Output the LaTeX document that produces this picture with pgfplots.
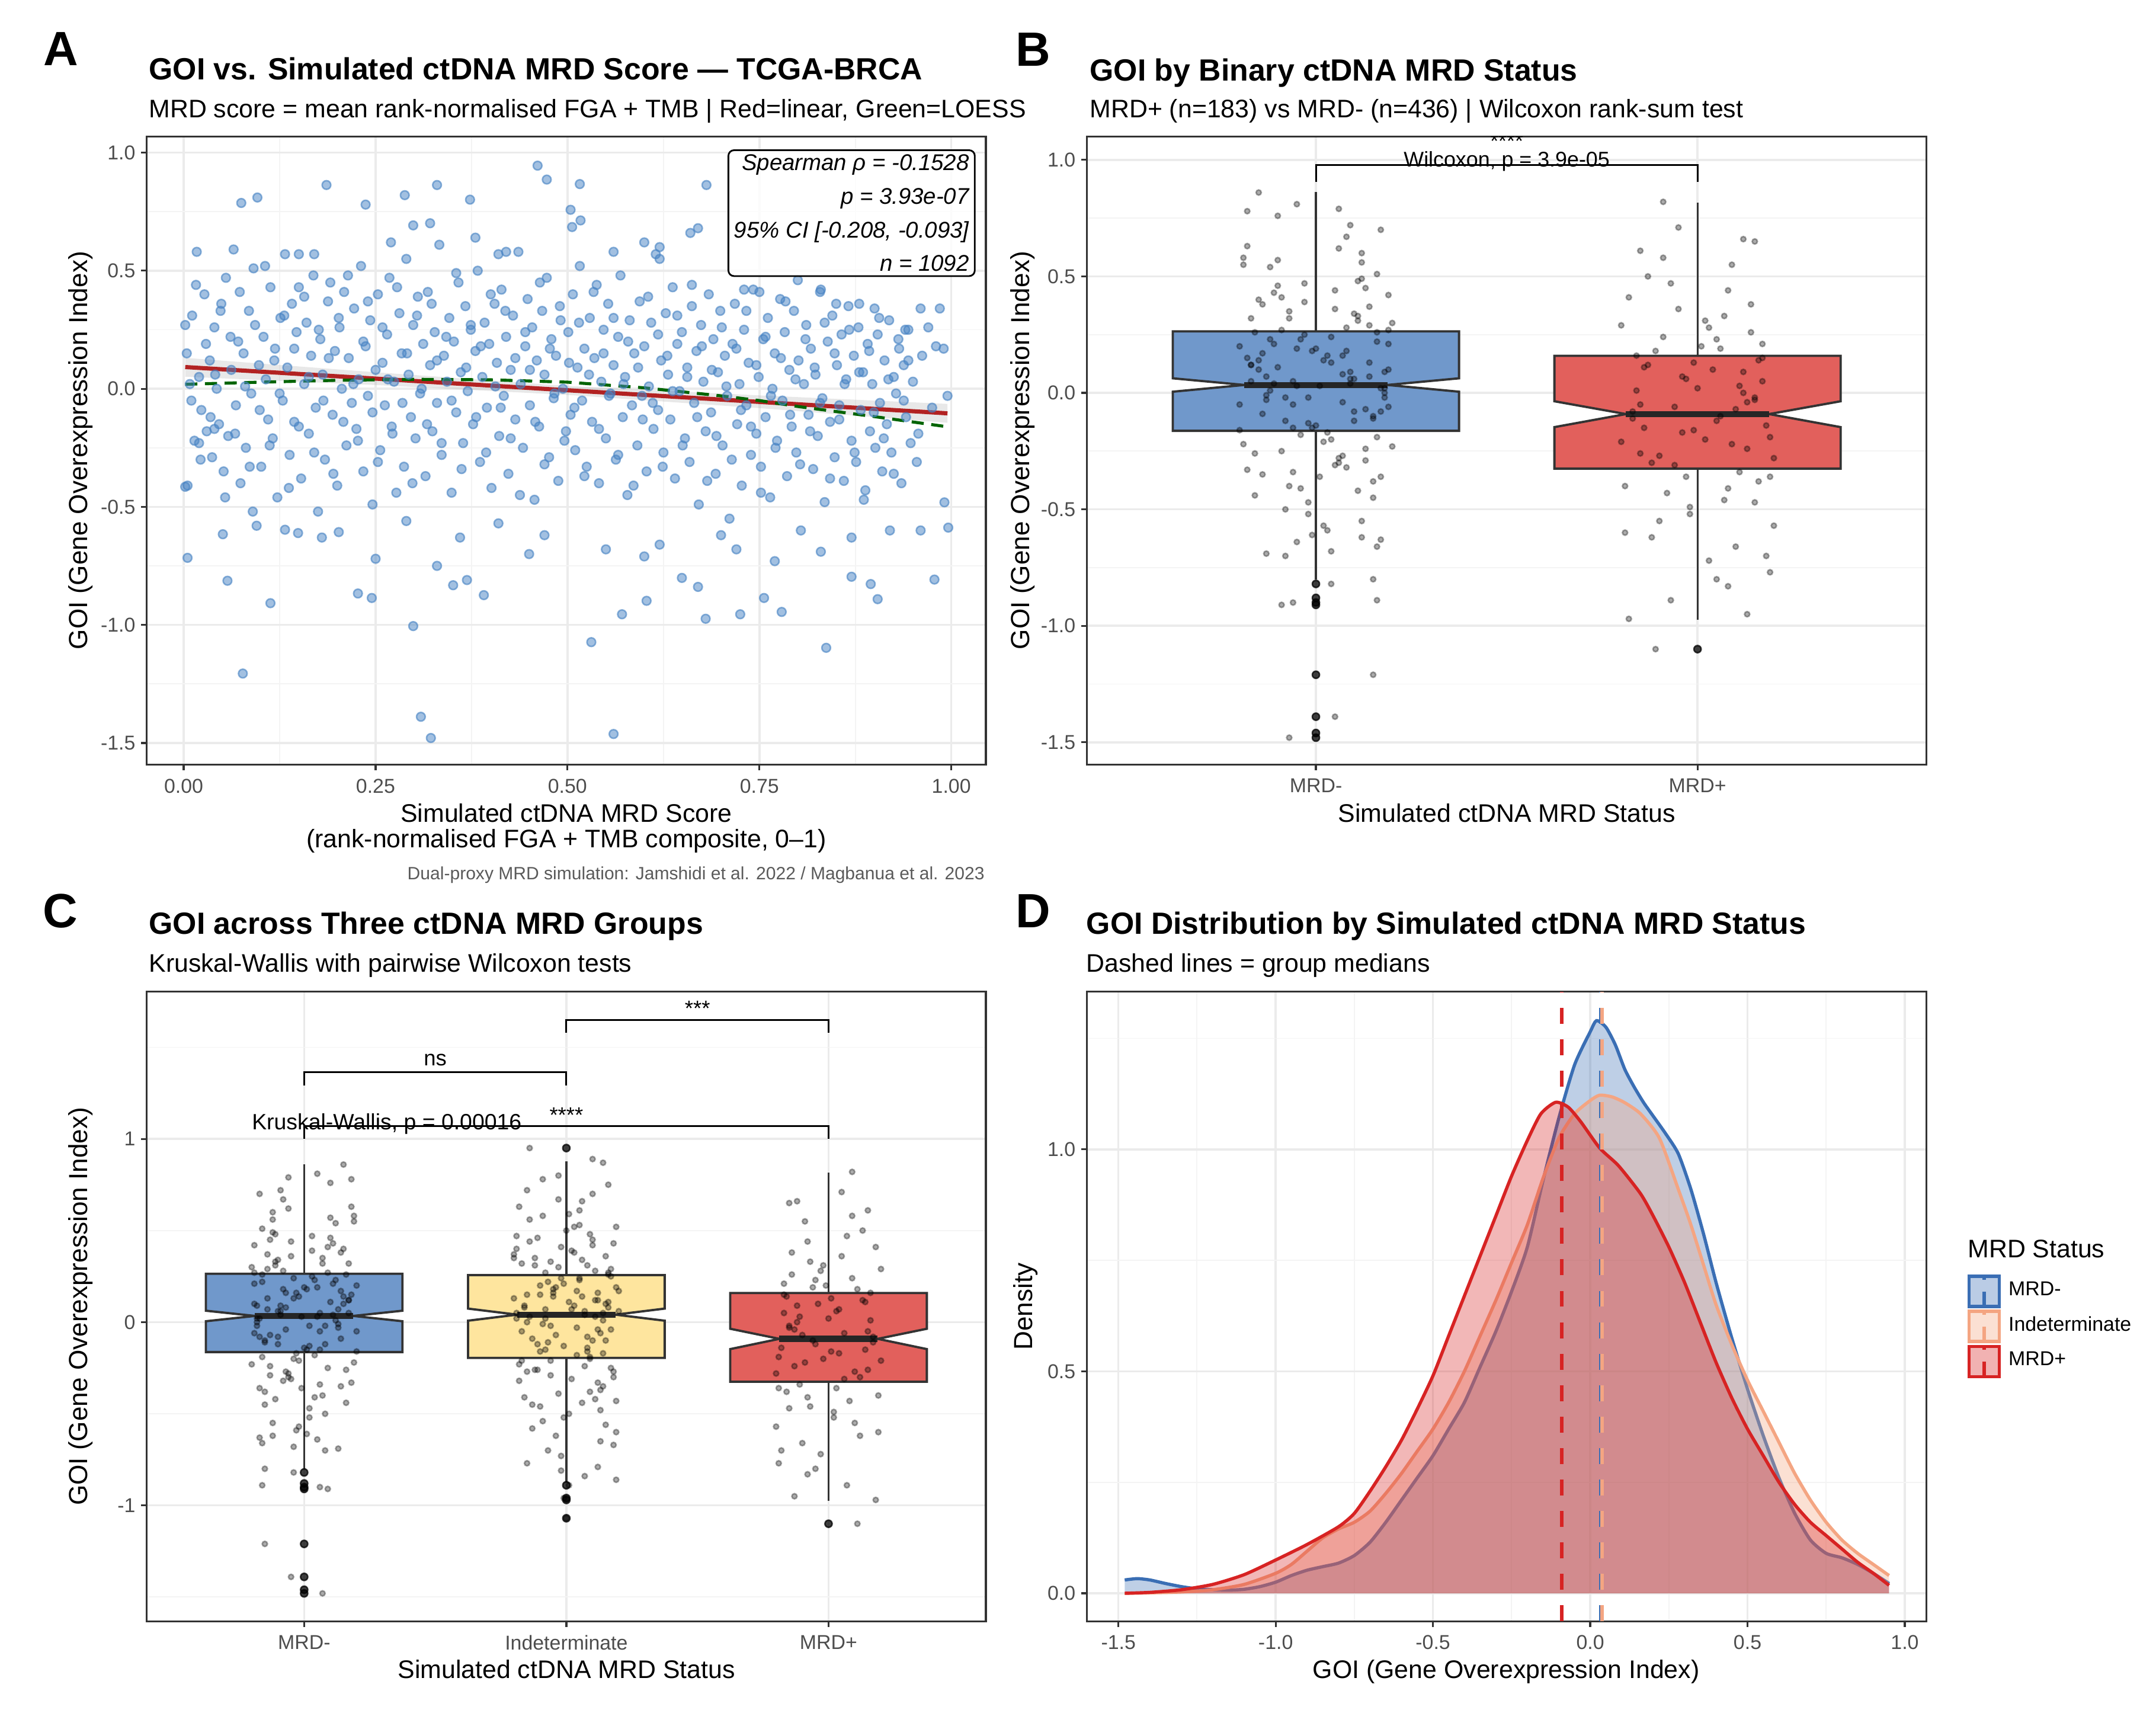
\documentclass[border=0pt]{standalone}
\usepackage{fontspec}
\setmainfont{Liberation Sans}
\usepackage{pgfplots}
\pgfplotsset{compat=1.18}
\usepackage{pgfplotstable}

\definecolor{ptblue}{RGB}{70,130,195}
\definecolor{regred}{RGB}{178,34,34}
\definecolor{loessgreen}{RGB}{0,100,0}
\definecolor{boxblue}{RGB}{112,152,203}
\definecolor{boxred}{RGB}{226,96,92}
\definecolor{boxyel}{RGB}{254,229,158}
\definecolor{dblue}{RGB}{58,110,180}
\definecolor{dorange}{RGB}{244,165,130}
\definecolor{dred}{RGB}{215,35,35}
\definecolor{gridc}{RGB}{235,235,235}
\definecolor{gridm}{RGB}{244,244,244}
\definecolor{framec}{RGB}{51,51,51}
\definecolor{ticklab}{RGB}{77,77,77}
\definecolor{capgray}{RGB}{90,90,90}

\pgfplotsset{ggbw/.style={scale only axis, anchor=south west,
  axis line style={framec, line width=0.5pt},
  grid=both, major grid style={gridc, line width=0.55pt}, minor grid style={gridm, line width=0.3pt},
  tick align=outside, major tick length=1.5pt, minor tick length=0pt, tick pos=left,
  tick style={framec, line width=0.5pt},
  tick label style={font=\fontsize{5.3}{6}\selectfont, text=ticklab},
  xticklabel style={yshift=1.3pt}, yticklabel style={xshift=2pt},
  clip=true}}

\pgfplotstableread[row sep=\\]{
j y \\
-0.17 0.12 \\ 0.05 -0.31 \\ 0.13 0.45 \\ -0.08 -0.02 \\ 0.19 0.27 \\ -0.02 -0.52 \\ 0.09 0.06 \\ -0.14 0.38 \\ 0.16 -0.19 \\ -0.11 0.21 \\
0.01 -0.36 \\ 0.18 0.09 \\ -0.19 0.55 \\ 0.07 -0.27 \\ -0.05 0.03 \\ 0.11 0.33 \\ -0.16 -0.44 \\ 0.03 0.16 \\ 0.15 -0.11 \\ -0.09 0.41 \\
0.17 -0.63 \\ -0.13 0.07 \\ 0.04 0.24 \\ -0.01 -0.15 \\ 0.12 0.49 \\ -0.18 -0.33 \\ 0.08 0.18 \\ -0.06 -0.05 \\ 0.14 0.29 \\ -0.04 -0.41 \\
-0.12 0.01 \\ 0.06 0.62 \\ 0.20 -0.23 \\ -0.15 0.14 \\ 0.10 -0.08 \\ -0.07 0.35 \\ 0.02 -0.57 \\ 0.16 0.22 \\ -0.20 -0.16 \\ 0.09 0.04 \\
-0.03 0.47 \\ 0.13 -0.29 \\ -0.10 0.11 \\ 0.18 -0.02 \\ -0.16 0.26 \\ 0.04 -0.68 \\ 0.11 0.31 \\ -0.08 -0.12 \\ 0.07 0.08 \\ -0.19 0.58 \\
0.15 -0.38 \\ -0.05 0.19 \\ 0.19 -0.06 \\ -0.11 0.43 \\ 0.02 -0.21 \\ -0.17 0.05 \\ 0.09 0.72 \\ -0.02 -0.47 \\ 0.14 0.13 \\ -0.14 -0.09 \\
0.05 0.36 \\ -0.09 -0.25 \\ 0.17 0.02 \\ -0.04 0.23 \\ 0.12 -0.55 \\ -0.18 0.15 \\ 0.00 -0.14 \\ 0.16 0.51 \\ -0.13 -0.03 \\ 0.08 0.28 \\
-0.06 -0.34 \\ 0.19 0.10 \\ -0.15 0.40 \\ 0.03 -0.17 \\ 0.10 0.06 \\ -0.01 -0.61 \\ -0.20 0.20 \\ 0.13 -0.07 \\ -0.07 0.32 \\ 0.06 -0.28 \\
0.18 0.00 \\ -0.12 0.54 \\ 0.04 -0.20 \\ -0.17 0.12 \\ 0.11 -0.42 \\ -0.03 0.25 \\ 0.15 -0.10 \\ -0.10 0.46 \\ 0.01 0.03 \\ 0.17 -0.36 \\
-0.14 0.17 \\ 0.07 -0.04 \\ -0.05 0.81 \\ 0.20 0.30 \\ -0.19 -0.22 \\ 0.09 0.09 \\ -0.08 -0.50 \\ 0.14 0.37 \\ -0.02 -0.13 \\ 0.12 0.56 \\
-0.16 -0.26 \\ 0.02 0.14 \\ 0.16 -0.66 \\ -0.11 0.04 \\ 0.05 0.44 \\ -0.04 -0.18 \\ 0.19 0.21 \\ -0.13 -0.01 \\ 0.10 0.34 \\ -0.07 -0.40 \\
0.14 0.07 \\ -0.18 0.63 \\ 0.06 -0.30 \\ -0.01 0.18 \\ 0.17 -0.08 \\ -0.09 0.27 \\ 0.03 -0.59 \\ -0.15 0.10 \\ 0.11 0.48 \\ -0.06 -0.15 \\
0.08 -0.32 \\ -0.12 0.23 \\ 0.18 0.02 \\ -0.03 0.39 \\ 0.13 -0.24 \\ -0.20 -0.05 \\ 0.04 0.13 \\ -0.10 0.57 \\ 0.15 -0.45 \\ 0.00 0.19 \\
-0.17 0.32 \\ 0.10 -0.12 \\ -0.06 0.05 \\ 0.19 0.42 \\ -0.14 -0.35 \\ 0.07 0.16 \\ -0.02 -0.02 \\ 0.12 0.60 \\ -0.08 -0.70 \\ 0.16 0.26 \\
-0.15 0.86 \\ 0.06 0.79 \\ -0.10 0.76 \\ 0.17 0.70 \\ -0.18 0.78 \\ 0.12 -0.62 \\ -0.13 -0.69 \\ 0.15 -0.80 \\ -0.05 -0.64 \\ 0.08 0.67 \\
-0.07 -1.48 \\ 0.15 -1.21 \\ 0.05 -1.39 \\ 0.16 -0.89 \\ -0.06 -0.90 \\ 0.04 -0.82 \\ -0.09 -0.91 \\
}\mrdneg

\pgfplotstableread[row sep=\\]{
j y \\
0.12 -0.04 \\ -0.06 0.33 \\ 0.18 -0.27 \\ -0.15 0.15 \\ 0.03 0.52 \\ -0.10 -0.46 \\ 0.16 0.08 \\ -0.02 0.24 \\ 0.08 -0.14 \\ -0.19 0.40 \\
0.14 -0.35 \\ -0.08 0.02 \\ 0.05 0.61 \\ -0.17 -0.21 \\ 0.19 0.19 \\ -0.04 -0.07 \\ 0.10 0.45 \\ -0.13 -0.58 \\ 0.01 0.11 \\ 0.17 0.29 \\
-0.11 -0.26 \\ 0.07 0.06 \\ -0.20 0.37 \\ 0.13 -0.48 \\ -0.05 0.14 \\ 0.15 -0.10 \\ -0.14 0.56 \\ 0.02 -0.31 \\ 0.11 0.03 \\ -0.07 0.22 \\
0.18 -0.67 \\ -0.12 0.31 \\ 0.04 -0.18 \\ -0.16 0.09 \\ 0.09 0.48 \\ -0.03 -0.39 \\ 0.20 0.17 \\ -0.09 -0.01 \\ 0.06 0.66 \\ -0.18 -0.23 \\
0.11 0.12 \\ -0.01 -0.52 \\ 0.16 0.26 \\ -0.13 -0.09 \\ 0.03 0.38 \\ -0.06 -0.29 \\ 0.14 0.05 \\ -0.19 0.47 \\ 0.08 -0.16 \\ -0.10 0.20 \\
0.19 -0.43 \\ -0.15 0.00 \\ 0.06 0.34 \\ -0.04 -0.62 \\ 0.12 0.16 \\ -0.11 -0.12 \\ 0.01 0.59 \\ 0.17 -0.25 \\ -0.08 0.07 \\ 0.10 0.42 \\
-0.17 -0.05 \\ 0.05 0.23 \\ -0.02 -0.73 \\ 0.15 0.10 \\ -0.12 0.35 \\ 0.09 -0.20 \\ -0.20 0.13 \\ 0.13 -0.37 \\ 0.00 0.50 \\ -0.07 -0.11 \\
0.16 0.27 \\ -0.09 -0.54 \\ 0.07 0.04 \\ -0.14 0.44 \\ 0.18 -0.30 \\ -0.05 0.18 \\ 0.04 -0.03 \\ -0.18 0.63 \\ 0.11 -0.42 \\ -0.01 0.21 \\
0.14 -0.17 \\ -0.16 0.08 \\ 0.02 0.39 \\ 0.19 -0.60 \\ -0.10 0.15 \\ 0.08 -0.08 \\ -0.03 0.30 \\ 0.12 -0.33 \\ -0.19 0.02 \\ 0.05 0.53 \\
-0.06 -0.21 \\ 0.17 0.25 \\ -0.13 -0.45 \\ 0.03 0.09 \\ 0.10 0.70 \\ -0.08 -0.15 \\ 0.15 0.36 \\ -0.15 -0.27 \\ 0.06 0.14 \\ -0.02 -0.81 \\
0.20 0.06 \\ -0.11 0.46 \\ 0.09 -0.38 \\ -0.04 0.19 \\ 0.13 -0.06 \\ -0.17 0.32 \\ 0.01 -0.50 \\ 0.16 0.11 \\ -0.09 0.58 \\ 0.07 -0.24 \\
-0.14 0.03 \\ 0.11 0.28 \\ -0.01 -0.13 \\ 0.18 0.43 \\ -0.07 -0.70 \\ 0.04 0.17 \\ -0.18 -0.32 \\ 0.14 0.01 \\ -0.03 0.67 \\ 0.09 -0.19 \\
0.05 0.24 \\ -0.16 -0.41 \\ 0.12 0.12 \\ -0.06 -0.02 \\ 0.19 0.52 \\ -0.12 -0.26 \\ 0.02 0.07 \\ -0.20 0.35 \\ 0.15 -0.56 \\ -0.05 0.16 \\
0.10 -0.10 \\ -0.15 0.72 \\ 0.06 -0.44 \\ -0.08 0.27 \\ 0.17 -0.04 \\ -0.02 0.41 \\ 0.13 -0.65 \\ -0.19 0.05 \\ 0.08 0.31 \\ -0.10 -0.16 \\
-0.14 0.95 \\ 0.10 0.89 \\ 0.14 0.87 \\ -0.03 0.80 \\ 0.16 0.75 \\ -0.09 0.78 \\ 0.19 -0.86 \\ 0.12 -0.79 \\ -0.15 -0.77 \\ 0.07 -0.84 \\
0.00 -1.07 \\ -0.01 -0.96 \\ 0.01 -0.89 \\
}\indet

\pgfplotstableread[row sep=\\]{
j y \\
-0.15 -0.05 \\ 0.08 -0.41 \\ 0.17 0.21 \\ -0.04 -0.17 \\ 0.12 0.09 \\ -0.19 -0.60 \\ 0.02 0.31 \\ -0.10 -0.27 \\ 0.15 -0.02 \\ -0.07 0.47 \\
0.19 -0.36 \\ -0.13 0.12 \\ 0.05 -0.12 \\ -0.02 -0.52 \\ 0.14 0.26 \\ -0.17 -0.08 \\ 0.09 0.55 \\ -0.06 -0.31 \\ 0.11 0.03 \\ -0.20 -0.21 \\
0.03 -0.72 \\ -0.11 0.18 \\ 0.18 -0.14 \\ -0.05 0.36 \\ 0.07 -0.46 \\ -0.16 0.01 \\ 0.13 -0.24 \\ -0.01 0.13 \\ 0.20 -0.57 \\ -0.09 0.24 \\
0.06 -0.10 \\ -0.18 0.41 \\ 0.16 -0.38 \\ -0.03 0.06 \\ 0.10 -0.66 \\ -0.14 -0.15 \\ 0.01 0.20 \\ 0.15 -0.03 \\ -0.08 -0.43 \\ 0.12 0.66 \\
-0.12 -0.30 \\ 0.04 0.10 \\ 0.19 -0.19 \\ -0.20 0.29 \\ 0.08 -0.83 \\ -0.06 -0.06 \\ 0.14 0.38 \\ -0.02 -0.49 \\ 0.17 0.15 \\ -0.15 -0.26 \\
0.00 0.02 \\ -0.09 0.58 \\ 0.11 -0.34 \\ -0.17 -0.11 \\ 0.05 0.23 \\ 0.18 -0.70 \\ -0.04 0.07 \\ 0.09 -0.22 \\ -0.13 0.50 \\ 0.13 -0.04 \\
-0.10 -0.55 \\ 0.16 0.14 \\ -0.01 -0.16 \\ 0.07 0.33 \\ -0.19 -0.40 \\ 0.12 0.00 \\ -0.07 -0.89 \\ 0.03 0.28 \\ 0.20 -0.28 \\ -0.14 0.11 \\
0.10 -0.07 \\ -0.05 0.71 \\ 0.15 -0.47 \\ -0.16 0.16 \\ 0.02 -0.20 \\ 0.08 0.44 \\ -0.12 -0.62 \\ 0.17 0.05 \\ -0.03 -0.36 \\ 0.06 0.19 \\
-0.09 0.82 \\ 0.15 0.65 \\ -0.18 -0.97 \\ -0.11 -1.10 \\ 0.13 -0.95 \\ 0.05 -0.80 \\ -0.15 0.61 \\ 0.19 -0.77 \\
}\mrdpos

\begin{document}
\begin{tikzpicture}
\useasboundingbox (0,0) rectangle (20cm,16.0075cm);

% ---------------- Panel A ----------------
\begin{axis}[ggbw, at={(1.3622cm,8.9145cm)}, width=7.783cm, height=5.828cm,
  xmin=-0.048, xmax=1.045, ymin=-1.592, ymax=1.069,
  xtick={0,0.25,0.5,0.75,1}, xticklabels={0.00,0.25,0.50,0.75,1.00},
  ytick={-1.5,-1,-0.5,0,0.5,1}, yticklabels={-1.5,-1.0,-0.5,0.0,0.5,1.0},
  minor tick num=1]
\addplot[only marks, mark=*, mark size=1.15pt, mark options={fill=ptblue, draw=ptblue, fill opacity=0.5, draw opacity=0.62}] coordinates {
(0.002,0.27)(0.005,-0.41)(0.008,0.02)(0.011,0.31)(0.014,-0.22)(0.017,0.58)(0.020,0.05)(0.023,-0.09)(0.027,0.40)(0.030,-0.18)
(0.034,0.12)(0.037,-0.29)(0.040,0.26)(0.043,0.00)(0.046,-0.15)(0.049,0.36)(0.052,-0.35)(0.055,0.47)(0.058,-0.20)(0.062,0.08)
(0.065,0.59)(0.068,-0.07)(0.071,0.20)(0.074,-0.40)(0.078,0.15)(0.081,-0.25)(0.085,0.33)(0.088,-0.02)(0.091,0.51)(0.095,-0.58)
(0.098,0.10)(0.101,-0.33)(0.104,0.22)(0.107,0.04)(0.110,-0.13)(0.113,0.43)(0.116,-0.21)(0.119,0.17)(0.122,-0.46)(0.126,0.30)
(0.129,-0.05)(0.132,0.57)(0.135,0.09)(0.138,-0.28)(0.141,0.36)(0.144,-0.14)(0.147,0.24)(0.150,0.43)(0.153,-0.38)(0.157,0.02)
(0.160,0.28)(0.163,-0.19)(0.166,0.14)(0.169,0.48)(0.172,-0.08)(0.175,-0.52)(0.178,0.21)(0.181,0.06)(0.184,-0.30)(0.188,0.37)
(0.191,0.45)(0.194,-0.11)(0.197,0.16)(0.200,-0.41)(0.203,0.26)(0.206,0.00)(0.209,0.41)(0.212,-0.24)(0.215,0.13)(0.219,-0.06)
(0.222,0.34)(0.225,-0.17)(0.228,0.04)(0.231,0.52)(0.234,-0.35)(0.237,0.18)(0.240,-0.03)(0.243,0.29)(0.246,-0.49)(0.250,0.08)
(0.253,0.40)(0.256,-0.26)(0.259,0.11)(0.262,-0.07)(0.265,0.23)(0.268,0.47)(0.271,-0.16)(0.274,0.03)(0.277,-0.44)(0.281,0.32)
(0.284,0.15)(0.287,-0.33)(0.290,0.55)(0.293,0.06)(0.296,-0.12)(0.299,0.27)(0.302,-0.21)(0.305,0.39)(0.308,-0.02)(0.312,0.19)
(0.315,-0.37)(0.318,0.41)(0.321,0.10)(0.324,-0.18)(0.327,0.24)(0.330,-0.06)(0.333,0.61)(0.336,-0.28)(0.339,0.14)(0.343,0.03)
(0.346,0.30)(0.349,-0.44)(0.352,0.20)(0.355,-0.10)(0.358,0.45)(0.361,0.07)(0.364,-0.23)(0.367,0.35)(0.370,-0.01)(0.374,0.25)
(0.377,-0.15)(0.380,0.16)(0.383,0.50)(0.386,-0.31)(0.389,0.05)(0.392,0.28)(0.395,-0.08)(0.398,0.19)(0.401,-0.42)(0.405,0.36)
(0.408,0.11)(0.411,-0.20)(0.414,0.42)(0.417,-0.03)(0.420,0.22)(0.423,-0.36)(0.426,0.08)(0.429,0.31)(0.432,-0.13)(0.436,0.58)
(0.439,0.02)(0.442,-0.25)(0.445,0.18)(0.448,0.38)(0.451,-0.07)(0.454,0.26)(0.457,-0.47)(0.460,0.12)(0.463,-0.16)(0.467,0.33)
(0.470,0.06)(0.473,0.47)(0.476,-0.29)(0.479,0.21)(0.482,-0.04)(0.485,0.14)(0.488,-0.39)(0.491,0.29)(0.494,0.00)(0.498,-0.18)
(0.501,0.24)(0.504,-0.11)(0.507,0.40)(0.510,-0.26)(0.513,0.09)(0.516,0.52)(0.519,-0.05)(0.522,0.17)(0.525,-0.33)(0.529,0.30)
(0.532,-0.14)(0.535,0.13)(0.538,0.44)(0.541,-0.40)(0.544,0.03)(0.547,0.25)(0.550,-0.21)(0.553,0.36)(0.556,-0.02)(0.560,0.10)
(0.563,-0.30)(0.566,0.22)(0.569,0.48)(0.572,-0.12)(0.575,0.05)(0.578,-0.45)(0.581,0.29)(0.584,-0.07)(0.587,0.15)(0.591,-0.24)
(0.594,0.37)(0.597,-0.03)(0.600,0.18)(0.603,-0.35)(0.606,0.01)(0.609,0.28)(0.612,-0.17)(0.615,0.57)(0.618,-0.09)(0.622,0.12)
(0.625,-0.27)(0.628,0.32)(0.631,0.06)(0.634,-0.13)(0.637,0.43)(0.640,-0.38)(0.643,0.19)(0.646,-0.01)(0.649,0.24)(0.653,-0.21)
(0.656,0.09)(0.659,-0.31)(0.662,0.35)(0.665,-0.06)(0.668,0.16)(0.671,-0.49)(0.674,0.27)(0.677,0.03)(0.680,-0.18)(0.684,0.40)
(0.687,-0.10)(0.690,0.21)(0.693,-0.36)(0.696,0.07)(0.699,0.33)(0.702,-0.24)(0.705,0.14)(0.708,-0.03)(0.711,-0.55)(0.715,0.19)
(0.718,0.36)(0.721,-0.15)(0.724,0.02)(0.727,-0.41)(0.730,0.25)(0.733,-0.07)(0.736,0.11)(0.739,-0.28)(0.742,0.42)(0.746,-0.19)
(0.749,0.05)(0.752,-0.33)(0.755,0.21)(0.758,-0.12)(0.761,0.30)(0.764,-0.46)(0.767,0.00)(0.770,0.15)(0.773,-0.22)(0.777,0.38)
(0.780,-0.05)(0.783,0.24)(0.786,-0.37)(0.789,0.08)(0.792,-0.16)(0.795,0.33)(0.798,-0.27)(0.801,0.12)(0.804,-0.60)(0.808,0.02)
(0.811,0.27)(0.814,-0.11)(0.817,0.17)(0.820,-0.34)(0.823,0.06)(0.826,-0.20)(0.829,0.41)(0.832,-0.04)(0.835,-0.48)(0.839,0.20)
(0.842,-0.14)(0.845,0.31)(0.848,-0.29)(0.851,0.10)(0.854,-0.07)(0.857,0.23)(0.860,-0.39)(0.863,0.04)(0.866,0.35)(0.870,-0.22)
(0.873,0.14)(0.876,-0.31)(0.879,0.26)(0.882,-0.09)(0.885,0.07)(0.888,-0.43)(0.891,0.19)(0.894,-0.18)(0.897,0.02)(0.901,-0.25)
(0.904,0.23)(0.907,-0.06)(0.910,-0.35)(0.913,0.12)(0.916,-0.15)(0.919,0.29)(0.922,-0.27)(0.925,0.05)(0.928,-0.02)(0.932,0.17)
(0.935,-0.40)(0.938,0.10)(0.941,-0.12)(0.944,0.25)(0.947,-0.23)(0.950,0.03)(0.955,-0.31)(0.962,0.14)(0.975,-0.08)(0.985,0.34)(0.990,0.17)(0.995,-0.03)
(0.461,0.945)(0.473,0.886)(0.516,0.867)(0.186,0.863)(0.330,0.863)(0.681,0.863)(0.075,0.787)(0.096,0.810)(0.237,0.780)(0.288,0.820)
(0.373,0.801)(0.504,0.758)(0.506,0.685)(0.517,0.713)(0.299,0.692)(0.321,0.701)(0.077,-1.206)(0.309,-1.389)(0.322,-1.479)(0.560,-1.462)
(0.299,-1.005)(0.531,-1.073)(0.837,-1.097)(0.113,-0.908)(0.227,-0.867)(0.245,-0.886)(0.391,-0.874)(0.351,-0.832)(0.369,-0.810)(0.571,-0.955)
(0.603,-0.898)(0.680,-0.974)(0.725,-0.955)(0.779,-0.945)(0.756,-0.886)(0.649,-0.801)(0.670,-0.839)(0.904,-0.891)(0.895,-0.827)(0.978,-0.808)
(0.870,-0.796)(0.005,-0.716)(0.057,-0.813)(0.051,-0.616)(0.132,-0.597)(0.149,-0.611)(0.202,-0.607)(0.002,-0.415)(0.996,-0.588)(0.991,-0.481)
(0.27,0.62)(0.38,0.64)(0.60,0.62)(0.62,0.60)(0.66,0.66)(0.67,0.68)(0.56,0.58)(0.42,0.58)(0.41,0.57)(0.15,0.57)(0.17,0.57)(0.62,0.55)
(0.90,0.34)(0.96,0.34)(0.98,0.18)(0.94,0.25)(0.85,0.36)(0.88,0.36)(0.83,0.42)(0.80,0.46)(0.73,0.42)(0.75,0.41)
(0.25,-0.72)(0.33,-0.75)(0.45,-0.70)(0.55,-0.68)(0.60,-0.71)(0.70,-0.62)(0.83,-0.69)(0.87,-0.63)(0.92,-0.60)(0.96,-0.60)(0.72,-0.68)
(0.77,-0.73)(0.62,-0.66)(0.47,-0.62)(0.36,-0.63)(0.41,-0.57)(0.29,-0.56)(0.18,-0.63)(0.09,-0.52)(0.02,-0.23)(0.04,-0.17)
(0.004,0.15)(0.010,-0.05)(0.016,0.44)(0.022,-0.30)(0.029,0.19)(0.035,-0.12)(0.041,0.06)(0.048,0.33)(0.054,-0.46)(0.061,0.22)
(0.067,-0.19)(0.073,0.41)(0.080,0.01)(0.086,-0.33)(0.093,0.27)(0.099,-0.09)(0.106,0.52)(0.112,-0.24)(0.118,0.12)(0.125,-0.02)
(0.131,0.31)(0.137,-0.42)(0.144,0.17)(0.150,-0.16)(0.157,0.39)(0.163,0.05)(0.170,-0.27)(0.176,0.25)(0.182,-0.05)(0.189,0.13)
(0.195,-0.36)(0.202,0.30)(0.208,-0.14)(0.214,0.48)(0.221,0.02)(0.227,-0.22)(0.234,0.20)(0.240,0.37)(0.246,-0.10)(0.253,-0.31)
(0.259,0.26)(0.266,0.04)(0.272,-0.19)(0.278,0.43)(0.285,-0.06)(0.291,0.15)(0.298,-0.40)(0.304,0.31)(0.310,0.00)(0.317,-0.15)
(0.323,0.36)(0.330,0.12)(0.336,-0.23)(0.342,0.22)(0.349,-0.05)(0.355,0.49)(0.362,-0.34)(0.368,0.09)(0.374,0.27)(0.381,-0.12)
(0.387,0.18)(0.394,-0.27)(0.400,0.40)(0.406,0.01)(0.413,-0.08)(0.419,0.33)(0.426,-0.21)(0.432,0.13)(0.438,-0.45)(0.445,0.24)
(0.451,0.08)(0.458,-0.14)(0.464,0.45)(0.470,-0.32)(0.477,0.17)(0.483,-0.02)(0.490,0.35)(0.496,-0.22)(0.502,0.11)(0.509,-0.08)
(0.515,0.28)(0.522,-0.37)(0.528,0.06)(0.534,0.41)(0.541,-0.17)(0.547,0.15)(0.554,-0.03)(0.560,0.30)(0.566,-0.28)(0.573,0.02)
(0.579,0.20)(0.586,-0.41)(0.592,0.09)(0.598,-0.13)(0.605,0.39)(0.611,-0.06)(0.618,0.23)(0.624,-0.33)(0.630,0.14)(0.637,-0.01)
(0.643,0.31)(0.650,-0.24)(0.656,0.05)(0.662,0.44)(0.669,-0.12)(0.675,0.18)(0.682,-0.39)(0.688,0.08)(0.694,-0.20)(0.701,0.26)
(0.707,0.01)(0.714,-0.30)(0.720,0.17)(0.726,-0.09)(0.733,0.33)(0.739,-0.16)(0.746,0.10)(0.752,-0.44)(0.758,0.22)(0.765,-0.03)
(0.771,-0.25)(0.778,0.13)(0.784,0.37)(0.790,-0.11)(0.797,0.04)(0.803,-0.32)(0.810,0.21)(0.816,-0.18)(0.822,0.09)(0.829,-0.06)
(0.835,0.28)(0.842,-0.38)(0.848,0.15)(0.854,-0.13)(0.861,0.02)(0.867,0.25)(0.874,-0.27)(0.880,0.07)(0.886,-0.47)(0.893,0.16)
(0.899,-0.10)(0.906,0.30)(0.912,-0.21)(0.918,0.04)(0.925,-0.36)(0.931,0.21)(0.938,-0.05)(0.944,0.12)(0.957,-0.19)(0.970,0.26)
};
\addplot[draw=none, fill=gray!60, fill opacity=0.3] coordinates {
(0.002,0.131)(0.25,0.070)(0.5,0.012)(0.75,-0.028)(0.995,-0.064)(0.995,-0.144)(0.75,-0.082)(0.5,-0.026)(0.25,0.016)(0.002,0.051)} --cycle;
\addplot[regred, line width=1.1pt] coordinates {(0.002,0.092)(0.995,-0.104)};
\addplot[loessgreen, line width=0.8pt, dash pattern=on 3.2pt off 2pt] coordinates {
(0.002,0.019)(0.1,0.028)(0.2,0.036)(0.25,0.038)(0.3,0.040)(0.4,0.038)(0.5,0.028)(0.6,0.004)(0.7,-0.030)(0.75,-0.050)(0.8,-0.075)(0.9,-0.118)(0.995,-0.161)};
\end{axis}

% ---------------- Panel B ----------------
\begin{axis}[ggbw, at={(10.083cm,8.9145cm)}, width=7.788cm, height=5.828cm,
  xmin=0.4, xmax=2.6, ymin=-1.596, ymax=1.101,
  xtick={1,2}, xticklabels={MRD-,MRD+}, minor x tick num=0,
  ytick={-1.5,-1,-0.5,0,0.5,1}, yticklabels={-1.5,-1.0,-0.5,0.0,0.5,1.0}, minor y tick num=1]
\addplot[framec, line width=0.5pt] coordinates {(1,0.264)(1,0.863)};
\addplot[framec, line width=0.5pt] coordinates {(1,-0.163)(1,-0.80)};
\addplot[framec, line width=0.5pt] coordinates {(2,0.159)(2,0.817)};
\addplot[framec, line width=0.5pt] coordinates {(2,-0.325)(2,-0.974)};
\addplot[fill=boxblue, draw=framec, line width=0.6pt] coordinates {(0.625,0.264)(1.375,0.264)(1.375,0.0625)(1.1875,0.034)(1.375,0.005)(1.375,-0.163)(0.625,-0.163)(0.625,0.005)(0.8125,0.034)(0.625,0.0625)} --cycle;
\addplot[fill=boxred, draw=framec, line width=0.6pt] coordinates {(1.625,0.159)(2.375,0.159)(2.375,-0.036)(2.1875,-0.091)(2.375,-0.147)(2.375,-0.325)(1.625,-0.325)(1.625,-0.147)(1.8125,-0.091)(1.625,-0.036)} --cycle;
\addplot[black!85, line width=1.6pt] coordinates {(0.8125,0.034)(1.1875,0.034)};
\addplot[black!85, line width=1.6pt] coordinates {(1.8125,-0.091)(2.1875,-0.091)};
\addplot[only marks, mark=*, mark size=0.95pt, mark options={fill=black, draw=black, opacity=0.75}] coordinates {
(1,-0.82)(1,-0.88)(1,-0.90)(1,-0.91)(1,-1.21)(1,-1.39)(1,-1.46)(1,-1.48)(2,-1.10)};
\addplot[only marks, mark=*, mark size=0.7pt, mark options={fill=black, draw=black, fill opacity=0.33, draw opacity=0.33}] table[x expr=1+\thisrow{j}, y=y]{\mrdneg};
\addplot[only marks, mark=*, mark size=0.7pt, mark options={fill=black, draw=black, fill opacity=0.33, draw opacity=0.33}] table[x expr=2+\thisrow{j}, y=y]{\mrdpos};
\addplot[black, line width=0.45pt] coordinates {(1,0.905)(1,0.978)(2,0.978)(2,0.905)};
\node[anchor=base, inner sep=0pt, font=\fontsize{5.6}{6}\selectfont] at (axis cs:1.5,1.05) {****};
\node[anchor=base, font=\fontsize{5.6}{6}\selectfont, inner sep=0pt] at (axis cs:1.5,0.971) {Wilcoxon, p = 3.9e-05};
\end{axis}

% ---------------- Panel C ----------------
\begin{axis}[ggbw, at={(1.3622cm,0.9694cm)}, width=7.783cm, height=5.839cm,
  xmin=0.4, xmax=3.6, ymin=-1.632, ymax=1.803,
  xtick={1,2,3}, xticklabels={MRD-,Indeterminate,MRD+}, minor x tick num=0,
  ytick={-1,0,1}, yticklabels={-1,0,1}, minor ytick={-1.5,-0.5,0.5,1.5}]
\addplot[framec, line width=0.5pt] coordinates {(1,0.264)(1,0.863)};
\addplot[framec, line width=0.5pt] coordinates {(1,-0.163)(1,-0.80)};
\addplot[framec, line width=0.5pt] coordinates {(2,0.257)(2,0.877)};
\addplot[framec, line width=0.5pt] coordinates {(2,-0.195)(2,-0.875)};
\addplot[framec, line width=0.5pt] coordinates {(3,0.159)(3,0.817)};
\addplot[framec, line width=0.5pt] coordinates {(3,-0.325)(3,-0.974)};
\addplot[fill=boxblue, draw=framec, line width=0.6pt] coordinates {(0.625,0.264)(1.375,0.264)(1.375,0.0625)(1.1875,0.034)(1.375,0.005)(1.375,-0.163)(0.625,-0.163)(0.625,0.005)(0.8125,0.034)(0.625,0.0625)} --cycle;
\addplot[fill=boxyel, draw=framec, line width=0.6pt] coordinates {(1.625,0.257)(2.375,0.257)(2.375,0.074)(2.1875,0.041)(2.375,0.008)(2.375,-0.195)(1.625,-0.195)(1.625,0.008)(1.8125,0.041)(1.625,0.074)} --cycle;
\addplot[fill=boxred, draw=framec, line width=0.6pt] coordinates {(2.625,0.159)(3.375,0.159)(3.375,-0.036)(3.1875,-0.091)(3.375,-0.147)(3.375,-0.325)(2.625,-0.325)(2.625,-0.147)(2.8125,-0.091)(2.625,-0.036)} --cycle;
\addplot[black!85, line width=1.6pt] coordinates {(0.8125,0.034)(1.1875,0.034)};
\addplot[black!85, line width=1.6pt] coordinates {(1.8125,0.041)(2.1875,0.041)};
\addplot[black!85, line width=1.6pt] coordinates {(2.8125,-0.091)(3.1875,-0.091)};
\addplot[only marks, mark=*, mark size=0.95pt, mark options={fill=black, draw=black, opacity=0.75}] coordinates {
(1,-0.82)(1,-0.88)(1,-0.90)(1,-0.91)(1,-1.21)(1,-1.39)(1,-1.46)(1,-1.48)(2,0.95)(2,-0.89)(2,-0.96)(2,-0.97)(2,-1.07)(3,-1.10)};
\addplot[only marks, mark=*, mark size=0.7pt, mark options={fill=black, draw=black, fill opacity=0.33, draw opacity=0.33}] table[x expr=1-\thisrow{j}, y=y]{\mrdneg};
\addplot[only marks, mark=*, mark size=0.7pt, mark options={fill=black, draw=black, fill opacity=0.33, draw opacity=0.33}] table[x expr=2+\thisrow{j}, y=y]{\indet};
\addplot[only marks, mark=*, mark size=0.7pt, mark options={fill=black, draw=black, fill opacity=0.33, draw opacity=0.33}] table[x expr=3-\thisrow{j}, y=y]{\mrdpos};
\addplot[black, line width=0.45pt] coordinates {(1,1.29)(1,1.365)(2,1.365)(2,1.29)};
\addplot[black, line width=0.45pt] coordinates {(2,1.58)(2,1.65)(3,1.65)(3,1.58)};
\addplot[black, line width=0.45pt] coordinates {(1,1.0)(1,1.07)(3,1.07)(3,1.0)};
\node[anchor=base, font=\fontsize{5.7}{6}\selectfont] at (axis cs:1.5,1.40) {ns};
\node[anchor=base, font=\fontsize{5.7}{6}\selectfont] at (axis cs:2.5,1.67) {***};
\node[anchor=base, font=\fontsize{5.7}{6}\selectfont] at (axis cs:2,1.09) {****};
\node[anchor=base, font=\fontsize{5.85}{6}\selectfont, inner sep=0pt] at (axis cs:1.315,1.052) {Kruskal-Wallis, p = 0.00016};
\end{axis}

% ---------------- Panel D ----------------
\begin{axis}[ggbw, at={(10.083cm,0.9694cm)}, width=7.788cm, height=5.839cm,
  xmin=-1.6, xmax=1.069, ymin=-0.063, ymax=1.355,
  xtick={-1.5,-1,-0.5,0,0.5,1}, xticklabels={-1.5,-1.0,-0.5,0.0,0.5,1.0}, minor x tick num=1,
  ytick={0,0.5,1}, yticklabels={0.0,0.5,1.0}, minor ytick={0.25,0.75,1.25},
  legend style={at={(1.048,0.5527)}, anchor=north west, draw=none, fill=none,
    font=\fontsize{5.3}{6}\selectfont, inner sep=0pt, row sep=0pt},
  legend cell align=left,
  legend image code/.code={
    \draw[#1, fill opacity=0.35] (0cm,-0.14cm) rectangle (0.28cm,0.14cm);
    \draw[#1] (0.14cm,-0.14cm) -- (0.14cm,0.0cm);
    \draw[#1] (0.14cm,0.14cm) -- (0.14cm,0.11cm);}]
\addplot[forget plot, fill=dblue, fill opacity=0.33, draw=none, smooth, tension=0.4] coordinates {
(-1.48,0.030)(-1.44,0.033)(-1.40,0.030)(-1.35,0.022)(-1.30,0.015)(-1.25,0.010)(-1.20,0.008)(-1.15,0.007)(-1.10,0.009)(-1.05,0.015)(-1.00,0.025)(-0.95,0.040)(-0.90,0.052)(-0.85,0.060)(-0.80,0.068)(-0.75,0.085)(-0.70,0.115)(-0.65,0.16)(-0.60,0.21)(-0.55,0.26)(-0.50,0.31)(-0.45,0.37)(-0.40,0.43)(-0.35,0.51)(-0.30,0.59)(-0.25,0.68)(-0.20,0.78)(-0.15,0.93)(-0.10,1.07)(-0.05,1.19)(0.00,1.265)(0.02,1.29)(0.05,1.275)(0.08,1.235)(0.11,1.18)(0.14,1.14)(0.17,1.105)(0.20,1.075)(0.24,1.035)(0.28,0.99)(0.32,0.91)(0.36,0.81)(0.40,0.70)(0.45,0.575)(0.50,0.46)(0.55,0.355)(0.60,0.26)(0.65,0.18)(0.70,0.12)(0.75,0.09)(0.80,0.08)(0.85,0.065)(0.90,0.045)(0.95,0.022)} \closedcycle;
\addplot[forget plot, dblue, line width=0.85pt, smooth, tension=0.4] coordinates {
(-1.48,0.030)(-1.44,0.033)(-1.40,0.030)(-1.35,0.022)(-1.30,0.015)(-1.25,0.010)(-1.20,0.008)(-1.15,0.007)(-1.10,0.009)(-1.05,0.015)(-1.00,0.025)(-0.95,0.040)(-0.90,0.052)(-0.85,0.060)(-0.80,0.068)(-0.75,0.085)(-0.70,0.115)(-0.65,0.16)(-0.60,0.21)(-0.55,0.26)(-0.50,0.31)(-0.45,0.37)(-0.40,0.43)(-0.35,0.51)(-0.30,0.59)(-0.25,0.68)(-0.20,0.78)(-0.15,0.93)(-0.10,1.07)(-0.05,1.19)(0.00,1.265)(0.02,1.29)(0.05,1.275)(0.08,1.235)(0.11,1.18)(0.14,1.14)(0.17,1.105)(0.20,1.075)(0.24,1.035)(0.28,0.99)(0.32,0.91)(0.36,0.81)(0.40,0.70)(0.45,0.575)(0.50,0.46)(0.55,0.355)(0.60,0.26)(0.65,0.18)(0.70,0.12)(0.75,0.09)(0.80,0.08)(0.85,0.065)(0.90,0.045)(0.95,0.022)};
\addplot[forget plot, fill=dorange, fill opacity=0.35, draw=none, smooth, tension=0.4] coordinates {
(-1.48,0.000)(-1.40,0.001)(-1.30,0.003)(-1.20,0.008)(-1.10,0.020)(-1.00,0.045)(-0.95,0.065)(-0.90,0.095)(-0.85,0.125)(-0.80,0.145)(-0.75,0.160)(-0.70,0.185)(-0.65,0.225)(-0.60,0.27)(-0.55,0.32)(-0.50,0.37)(-0.45,0.43)(-0.40,0.50)(-0.35,0.58)(-0.30,0.66)(-0.25,0.745)(-0.20,0.83)(-0.15,0.935)(-0.10,1.025)(-0.05,1.08)(0.00,1.11)(0.03,1.122)(0.07,1.118)(0.11,1.105)(0.16,1.08)(0.22,1.025)(0.28,0.91)(0.32,0.83)(0.36,0.74)(0.40,0.65)(0.45,0.56)(0.50,0.48)(0.55,0.41)(0.60,0.34)(0.65,0.27)(0.70,0.21)(0.75,0.16)(0.80,0.12)(0.85,0.09)(0.90,0.065)(0.95,0.04)} \closedcycle;
\addplot[forget plot, dorange, line width=0.85pt, smooth, tension=0.4] coordinates {
(-1.48,0.000)(-1.40,0.001)(-1.30,0.003)(-1.20,0.008)(-1.10,0.020)(-1.00,0.045)(-0.95,0.065)(-0.90,0.095)(-0.85,0.125)(-0.80,0.145)(-0.75,0.160)(-0.70,0.185)(-0.65,0.225)(-0.60,0.27)(-0.55,0.32)(-0.50,0.37)(-0.45,0.43)(-0.40,0.50)(-0.35,0.58)(-0.30,0.66)(-0.25,0.745)(-0.20,0.83)(-0.15,0.935)(-0.10,1.025)(-0.05,1.08)(0.00,1.11)(0.03,1.122)(0.07,1.118)(0.11,1.105)(0.16,1.08)(0.22,1.025)(0.28,0.91)(0.32,0.83)(0.36,0.74)(0.40,0.65)(0.45,0.56)(0.50,0.48)(0.55,0.41)(0.60,0.34)(0.65,0.27)(0.70,0.21)(0.75,0.16)(0.80,0.12)(0.85,0.09)(0.90,0.065)(0.95,0.04)};
\addplot[forget plot, fill=dred, fill opacity=0.33, draw=none, smooth, tension=0.4] coordinates {
(-1.48,0.000)(-1.40,0.002)(-1.30,0.008)(-1.20,0.020)(-1.10,0.042)(-1.00,0.075)(-0.90,0.11)(-0.80,0.15)(-0.75,0.18)(-0.70,0.23)(-0.65,0.285)(-0.60,0.345)(-0.55,0.415)(-0.50,0.49)(-0.45,0.58)(-0.40,0.67)(-0.35,0.76)(-0.30,0.85)(-0.25,0.94)(-0.20,1.02)(-0.157,1.08)(-0.11,1.106)(-0.07,1.095)(-0.03,1.062)(0.03,1.003)(0.09,0.963)(0.16,0.90)(0.20,0.85)(0.25,0.78)(0.30,0.70)(0.35,0.61)(0.40,0.52)(0.45,0.44)(0.50,0.37)(0.55,0.31)(0.60,0.25)(0.65,0.20)(0.70,0.16)(0.75,0.13)(0.80,0.10)(0.85,0.07)(0.90,0.045)(0.95,0.018)} \closedcycle;
\addplot[forget plot, dred, line width=0.85pt, smooth, tension=0.4] coordinates {
(-1.48,0.000)(-1.40,0.002)(-1.30,0.008)(-1.20,0.020)(-1.10,0.042)(-1.00,0.075)(-0.90,0.11)(-0.80,0.15)(-0.75,0.18)(-0.70,0.23)(-0.65,0.285)(-0.60,0.345)(-0.55,0.415)(-0.50,0.49)(-0.45,0.58)(-0.40,0.67)(-0.35,0.76)(-0.30,0.85)(-0.25,0.94)(-0.20,1.02)(-0.157,1.08)(-0.11,1.106)(-0.07,1.095)(-0.03,1.062)(0.03,1.003)(0.09,0.963)(0.16,0.90)(0.20,0.85)(0.25,0.78)(0.30,0.70)(0.35,0.61)(0.40,0.52)(0.45,0.44)(0.50,0.37)(0.55,0.31)(0.60,0.25)(0.65,0.20)(0.70,0.16)(0.75,0.13)(0.80,0.10)(0.85,0.07)(0.90,0.045)(0.95,0.018)};
\addplot[forget plot, dblue, line width=0.9pt, dash pattern=on 4.2pt off 4.1pt] coordinates {(0.034,-0.063)(0.034,1.355)};
\addplot[forget plot, dorange, line width=0.9pt, dash pattern=on 4.2pt off 4.1pt] coordinates {(0.038,-0.063)(0.038,1.355)};
\addplot[forget plot, dred, line width=0.9pt, dash pattern=on 4.2pt off 4.1pt] coordinates {(-0.091,-0.063)(-0.091,1.355)};
\addlegendimage{draw=dblue, fill=dblue, line width=0.85pt}
\addlegendentry{MRD-}
\addlegendimage{draw=dorange, fill=dorange, line width=0.85pt}
\addlegendentry{Indeterminate}
\addlegendimage{draw=dred, fill=dred, line width=0.85pt}
\addlegendentry{MRD+}
\end{axis}

% ---------------- Texts (coordinates in px of a 1568 x 1255 canvas) ----------------
\begin{scope}[x=0.012755cm, y=-0.012755cm, yshift=16.0075cm]
\tikzset{pl/.style={anchor=base west, inner sep=0pt, font=\fontsize{12.7}{14}\selectfont\bfseries},
  ttl/.style={anchor=base west, inner sep=0pt, font=\fontsize{8.1}{9}\selectfont\bfseries},
  sub/.style={anchor=base west, inner sep=0pt, font=\fontsize{6.7}{8}\selectfont},
  xl/.style={anchor=base, inner sep=0pt, font=\fontsize{6.7}{8}\selectfont},
  yl/.style={anchor=center, rotate=90, inner sep=0pt, font=\fontsize{6.9}{8}\selectfont}}
\node[pl] at (31,47.6) {A};
\node[ttl] at (107.8,58) {GOI vs. Simulated ctDNA MRD Score — TCGA-BRCA};
\node[sub] at (107.8,85.4) {MRD score = mean rank-normalised FGA + TMB | Red=linear, Green=LOESS};
\node[xl] at (411.9,597.6) {Simulated ctDNA MRD Score};
\node[xl] at (411.9,616.5) {(rank-normalised FGA + TMB composite, 0–1)};
\node[anchor=base east, inner sep=0pt, font=\fontsize{4.7}{5}\selectfont, text=capgray] at (716.5,639.5) {Dual-proxy MRD simulation: Jamshidi et al. 2022 / Magbanua et al. 2023};
\node[yl] at (58.5,327.5) {GOI (Gene Overexpression Index)};
\node[anchor=north east, draw=black, line width=0.45pt, rounded corners=1.5pt, fill=white, fill opacity=0.8, text opacity=1, align=right, inner xsep=1.5pt, inner ysep=1.2pt, font=\fontsize{6}{8.86}\selectfont\itshape] at (709.5,108.6) {Spearman ρ = -0.1528\\p = 3.93e-07\\95\% CI [-0.208, -0.093]\\n = 1092};

\node[pl] at (738,48) {B};
\node[ttl] at (792,59) {GOI by Binary ctDNA MRD Status};
\node[sub] at (792,85.5) {MRD+ (n=183) vs MRD- (n=436) | Wilcoxon rank-sum test};
\node[xl] at (1095.8,598) {Simulated ctDNA MRD Status};
\node[yl] at (743.8,327.5) {GOI (Gene Overexpression Index)};

\node[pl] at (30.7,674.5) {C};
\node[ttl] at (107.8,679.4) {GOI across Three ctDNA MRD Groups};
\node[sub] at (107.8,706.6) {Kruskal-Wallis with pairwise Wilcoxon tests};
\node[xl] at (411.9,1220.4) {Simulated ctDNA MRD Status};
\node[yl] at (58.5,950) {GOI (Gene Overexpression Index)};

\node[pl] at (738,674.5) {D};
\node[ttl] at (789.5,679.4) {GOI Distribution by Simulated ctDNA MRD Status};
\node[sub] at (789.5,706.6) {Dashed lines = group medians};
\node[xl] at (1095.3,1220.4) {GOI (Gene Overexpression Index)};
\node[yl] at (745.8,950) {Density};
\node[anchor=base west, inner sep=0pt, font=\fontsize{6.7}{8}\selectfont] at (1430.5,914.5) {MRD Status};
\end{scope}
\end{tikzpicture}
\end{document}
